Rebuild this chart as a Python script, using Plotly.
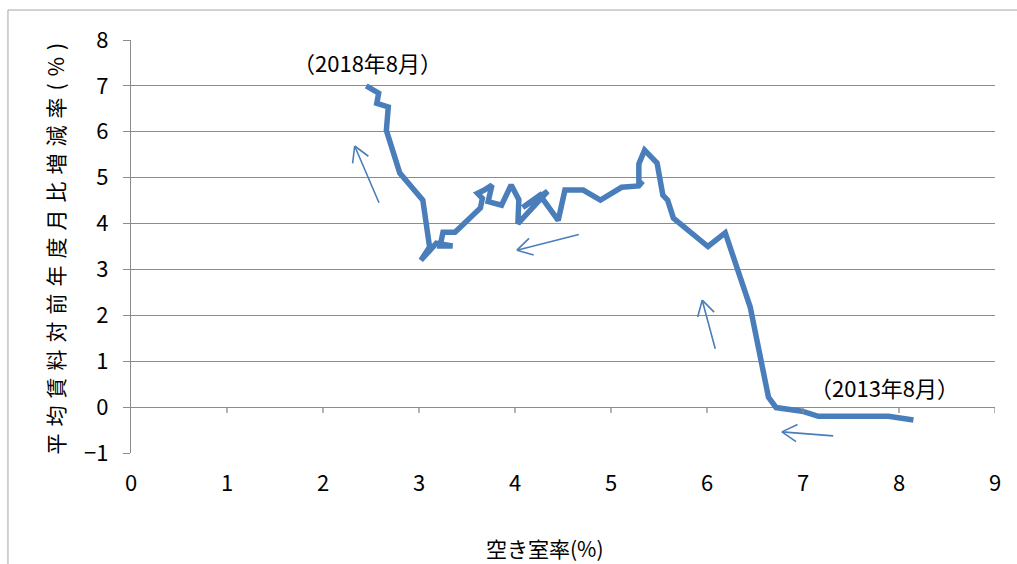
import math
import plotly.graph_objects as go

# Time order: 2013-08 (right) -> 2018-08 (left)
vacancy = [8.15, 7.89, 7.16, 6.99, 6.72, 6.64, 6.45, 6.19, 6.01, 5.65, 5.59, 5.54, 5.48, 5.35,
           5.29, 5.29, 5.33, 5.29, 5.11, 4.89, 4.71, 4.52, 4.45, 4.26, 4.08, 4.34, 4.03, 4.04,
           3.96, 3.86, 3.72, 3.76, 3.68, 3.61, 3.66, 3.64, 3.43, 3.375, 3.25, 3.22, 3.35, 3.18,
           3.02, 3.11, 3.04, 2.80, 2.66, 2.68, 2.56, 2.58, 2.45]
rent_change = [-0.28, -0.2, -0.2, -0.09, -0.01, 0.22, 2.18, 3.80, 3.50, 4.12, 4.51, 4.62, 5.32, 5.60,
               5.30, 4.85, 4.92, 4.82, 4.79, 4.51, 4.73, 4.73, 4.07, 4.62, 4.35, 4.70, 4.00, 4.52,
               4.84, 4.40, 4.48, 4.84, 4.73, 4.66, 4.55, 4.34, 3.92, 3.81, 3.81, 3.51, 3.51, 3.57,
               3.20, 3.49, 4.51, 5.10, 6.03, 6.54, 6.62, 6.84, 7.00]

x_ticks = [0, 1, 2, 3, 4, 5, 6, 7, 8, 9]
y_ticks = [-1, 0, 1, 2, 3, 4, 5, 6, 7, 8]

# direction arrows (tail -> head)
arrow_tail_x = [7.33, 6.09, 4.68, 2.59]
arrow_tail_y = [-0.63, 1.24, 3.77, 4.42]
arrow_head_x = [6.78, 5.95, 4.02, 2.33]
arrow_head_y = [-0.54, 2.33, 3.42, 5.69]

period_labels = ["（2013年8月）", "（2018年8月）"]
label_x = [7.85, 2.46]
label_y = [0.44, 7.52]

blue = "#4A7EBB"
grid = "#8C8C8C"
font_family = "Noto Sans CJK JP, sans-serif"

W, H = 1017, 564
ML, MR, MT, MB = 131, 22, 40, 111
X_RANGE = [0, 9]
Y_RANGE = [-1, 8]
px_per_x = (W - ML - MR) / (X_RANGE[1] - X_RANGE[0])
px_per_y = (H - MT - MB) / (Y_RANGE[1] - Y_RANGE[0])

fig = go.Figure()
fig.add_trace(go.Scatter(x=vacancy, y=rent_change, mode="lines",
                         line=dict(color=blue, width=5.5, shape="linear"),
                         hoverinfo="skip", showlegend=False))

annotations = []
HEAD_LEN = 19
HEAD_ANG = math.radians(30)
for tx, ty, hx, hy in zip(arrow_tail_x, arrow_tail_y, arrow_head_x, arrow_head_y):
    # shaft
    annotations.append(dict(x=hx, y=hy, ax=tx, ay=ty, xref="x", yref="y",
                            axref="x", ayref="y", text="", showarrow=True,
                            arrowhead=0, arrowwidth=1.6, arrowcolor=blue, standoff=0))
    # head legs (pixel offsets from the tip, pointing back toward the tail)
    dx = (tx - hx) * px_per_x
    dy = -(ty - hy) * px_per_y
    base = math.atan2(dy, dx)
    for s in (-1, 1):
        a = base + s * HEAD_ANG
        annotations.append(dict(x=hx, y=hy, xref="x", yref="y",
                                ax=HEAD_LEN * math.cos(a), ay=HEAD_LEN * math.sin(a),
                                text="", showarrow=True, arrowhead=0, arrowwidth=1.6,
                                arrowcolor=blue, standoff=0))
for t, lx, ly in zip(period_labels, label_x, label_y):
    annotations.append(dict(x=lx, y=ly, xref="x", yref="y", text=t, showarrow=False,
                            font=dict(family=font_family, size=22, color="#000000")))

annotations.append(dict(x=-0.088, y=0.505, xref="paper", yref="paper",
                        xanchor="center", yanchor="middle",
                        text='<span style="letter-spacing:7px">平均賃料対前年度月比増減率(%)</span>',
                        textangle=-90, showarrow=False,
                        font=dict(family=font_family, size=21, color="#000000")))
annotations.append(dict(x=0.479, y=-0.23, xref="paper", yref="paper",
                        xanchor="center", yanchor="middle",
                        text="空き室率(%)", showarrow=False,
                        font=dict(family=font_family, size=21, color="#000000")))

shapes = []
# x-axis tick marks hanging below the y=0 line
for xv in x_ticks[1:]:
    shapes.append(dict(type="line", xref="x", yref="y", x0=xv, x1=xv,
                       ysizemode="pixel", yanchor=0, y0=0, y1=-6,
                       line=dict(color=grid, width=1.3)))
# outer chart frame
shapes.append(dict(type="rect", xref="paper", yref="paper",
                   x0=-0.1424, x1=1.2, y0=-0.4, y1=1.0726,
                   line=dict(color="#A6A6A6", width=1), fillcolor="rgba(0,0,0,0)", layer="below"))

fig.update_layout(
    width=W, height=H,
    margin=dict(l=ML, r=MR, t=MT, b=MB),
    paper_bgcolor="white", plot_bgcolor="white",
    showlegend=False,
    annotations=annotations,
    shapes=shapes,
    font=dict(family=font_family, color="#000000"),
    xaxis=dict(range=X_RANGE, tickvals=x_ticks, showgrid=False, zeroline=False,
               showline=False, ticks="", ticklabelstandoff=15,
               tickfont=dict(family=font_family, size=22, color="#000000")),
    yaxis=dict(range=Y_RANGE, tickvals=y_ticks, showgrid=True, gridcolor=grid, gridwidth=1.3,
               zeroline=True, zerolinecolor=grid, zerolinewidth=1.3,
               showline=True, linecolor=grid, linewidth=1.3,
               ticks="outside", ticklen=7, tickcolor=grid, tickwidth=1.3,
               ticklabelstandoff=10,
               tickfont=dict(family=font_family, size=22, color="#000000")),
)

fig.write_html("out.html")
